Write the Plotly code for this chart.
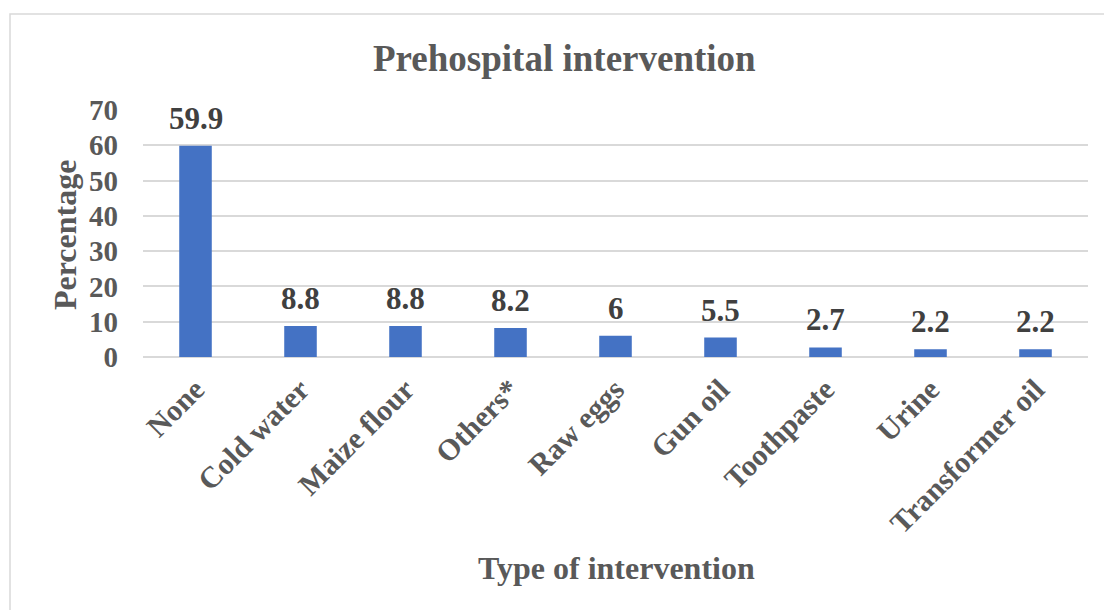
import plotly.graph_objects as go

categories = ["None", "Cold water", "Maize flour", "Others*", "Raw eggs",
              "Gun oil", "Toothpaste", "Urine", "Transformer oil"]
percentages = [59.9, 8.8, 8.8, 8.2, 6, 5.5, 2.7, 2.2, 2.2]
y_ticks = [0, 10, 20, 30, 40, 50, 60, 70]

FONT = "Liberation Serif"
GREY = "#595959"
DARK = "#404040"
GRID = "#d9d9d9"

W, H = 1104, 610
ML, MR, MT, MB = 143, 16, 110, 253
PW, PH = W - ML - MR, H - MT - MB


def px_x(x):
    return (x - ML) / PW


def px_y(y):
    return (H - MB - y) / PH


fig = go.Figure(go.Bar(
    x=categories,
    y=percentages,
    width=0.31,
    marker=dict(color="#4472C4", line=dict(width=0)),
))

# value labels sitting above each bar
value_labels = [
    dict(text=f"{v:g}", x=c, y=v, xref="x", yref="y", showarrow=False,
         xanchor="center", yanchor="bottom", yshift=8,
         font=dict(family=FONT, size=31, color=DARK, weight="bold"))
    for c, v in zip(categories, percentages)
]

fig.update_layout(
    width=W, height=H,
    margin=dict(l=ML, r=MR, t=MT, b=MB),
    paper_bgcolor="white",
    plot_bgcolor="white",
    showlegend=False,
    font=dict(family=FONT, color=GREY),
    xaxis=dict(
        tickangle=-45,
        tickfont=dict(family=FONT, size=30, color=GREY, weight="bold"),
        showgrid=False,
        showline=False,
        ticks="",
        ticklabelstandoff=8,
        automargin=False,
    ),
    yaxis=dict(
        range=[0, 70],
        tickvals=y_ticks,
        tickfont=dict(family=FONT, size=29, color=GREY, weight="bold"),
        showgrid=True,
        gridcolor=GRID,
        gridwidth=1.5,
        zeroline=True,
        zerolinecolor=GRID,
        zerolinewidth=1.5,
        showline=False,
        ticks="",
        ticklabelstandoff=24,
        automargin=False,
    ),
    annotations=value_labels + [
        dict(text="Prehospital intervention", x=px_x(564), y=px_y(58),
             xref="paper", yref="paper", showarrow=False,
             xanchor="center", yanchor="middle",
             font=dict(family=FONT, size=37, color=GREY, weight="bold")),
        dict(text="Type of intervention", x=px_x(616), y=px_y(568),
             xref="paper", yref="paper", showarrow=False,
             xanchor="center", yanchor="middle",
             font=dict(family=FONT, size=32, color=GREY, weight="bold")),
        dict(text="Percentage", x=px_x(65), y=px_y(235),
             xref="paper", yref="paper", showarrow=False, textangle=-90,
             xanchor="center", yanchor="middle",
             font=dict(family=FONT, size=32, color=GREY, weight="bold")),
    ],
    shapes=[
        dict(type="rect", xref="paper", yref="paper",
             x0=px_x(10), x1=px_x(W + 10), y0=px_y(H + 10), y1=px_y(14),
             line=dict(color=GRID, width=1.5), fillcolor="rgba(0,0,0,0)",
             layer="below"),
    ],
)

fig.write_html("out.html")
